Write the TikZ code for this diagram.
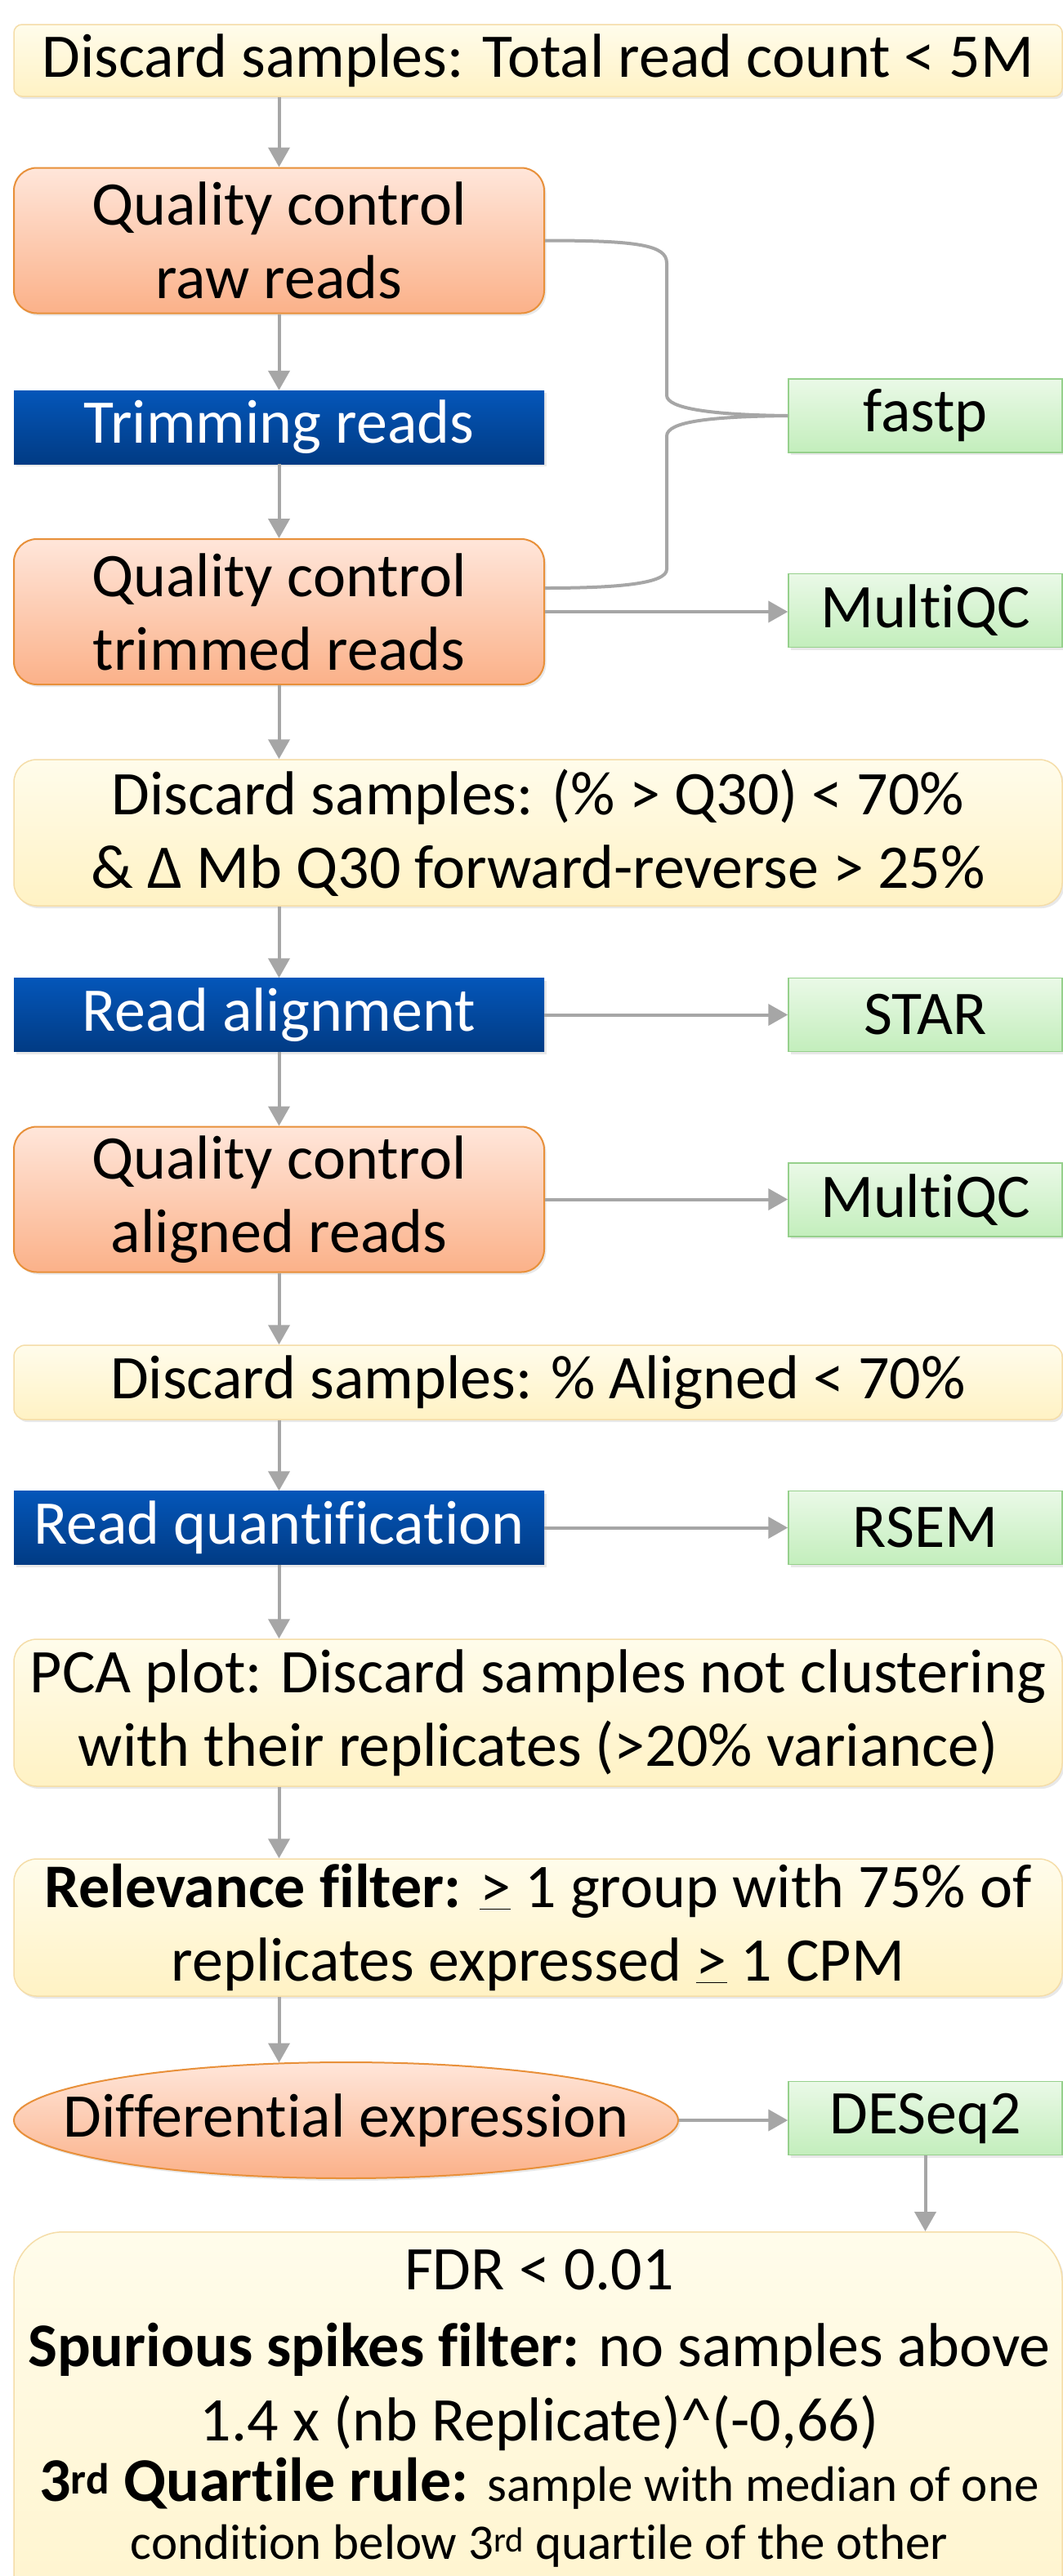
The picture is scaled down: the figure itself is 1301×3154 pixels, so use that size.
\documentclass[tikz,border=0pt]{standalone}
\usepackage{fontspec}
\setmainfont{Carlito}[Ligatures=NoCommon]
\usetikzlibrary{arrows.meta,shapes.geometric,shadows,calc}
\definecolor{arrowgray}{HTML}{A6A6A6}
\definecolor{yelTop}{HTML}{FFFCEB}
\definecolor{yelBot}{HTML}{FFF2C4}
\definecolor{yelLine}{HTML}{F5DDA8}
\definecolor{orTop}{HTML}{FFE6DA}
\definecolor{orBot}{HTML}{FBB189}
\definecolor{orLine}{HTML}{E8903A}
\definecolor{blTop}{HTML}{0456B9}
\definecolor{blBot}{HTML}{013B84}
\definecolor{grTop}{HTML}{EAF9E7}
\definecolor{grBot}{HTML}{C3EEBC}
\definecolor{grLine}{HTML}{96D08C}
\tikzset{
  basebox/.style={font=\fontsize{76}{90}\selectfont, align=center, inner sep=0pt,
    drop shadow={shadow xshift=2.5pt, shadow yshift=-3pt, opacity=0.18}},
  yelbox/.style={basebox, draw=yelLine, line width=1.5pt, top color=yelTop, bottom color=yelBot, minimum width=1283pt},
  orbox/.style={basebox, draw=orLine, line width=2pt, top color=orTop, bottom color=orBot, minimum width=649pt, minimum height=178pt, rounded corners=28pt},
  blbox/.style={basebox, top color=blTop, bottom color=blBot, text=white, minimum width=649pt, minimum height=90pt},
  grbox/.style={basebox, draw=grLine, line width=1.5pt, top color=grTop, bottom color=grBot, minimum width=335pt, minimum height=90pt},
  flow/.style={draw=arrowgray, line width=4pt, -{Triangle[length=24pt,width=26pt]}},
  bracepath/.style={draw=arrowgray, line width=4pt},
  linetext/.style={font=\fontsize{76}{90}\selectfont, anchor=base, inner sep=0pt},
}
\begin{document}
\begin{tikzpicture}[x=1pt,y=-1pt]
\fill[white] (0,0) rectangle (1301,3154);
\useasboundingbox (0,0) rectangle (1301,3154);

% left column
\node[yelbox, minimum height=88pt, rounded corners=10pt] (top) at (658.5,74) {Discard samples: Total read count < 5M};
\node[orbox] (qcraw) at (341.5,294.5) {Quality control\\raw reads};
\node[blbox] (trim) at (341.5,523) {Trimming reads};
\node[orbox] (qctrim) at (341.5,749) {Quality control\\trimmed reads};
\node[yelbox, minimum height=179pt, rounded corners=28pt] (disq) at (658.5,1019.5) {Discard samples: (\% > Q30) < 70\%\\\& Δ Mb Q30 forward-reverse > 25\%};
\node[blbox] (align) at (341.5,1242.5) {Read alignment};
\node[orbox] (qcal) at (341.5,1468.5) {Quality control\\aligned reads};
\node[yelbox, minimum height=91pt, rounded corners=14pt] (disal) at (658.5,1692.5) {Discard samples: \% Aligned < 70\%};
\node[blbox] (quant) at (341.5,1870.5) {Read quantification};
\node[yelbox, minimum height=180pt, rounded corners=28pt] (pca) at (658.5,2097) {PCA plot: Discard samples not clustering\\with their replicates (>20\% variance)};
\node[yelbox, minimum height=168pt, rounded corners=28pt] (rel) at (658.5,2360) {\textbf{Relevance filter:} \underline{>} 1 group with 75\% of\\replicates expressed \underline{>} 1 CPM};
\node[basebox, ellipse, draw=orLine, line width=2pt, top color=orTop, bottom color=orBot, minimum width=813pt, minimum height=142pt] (diff) at (423.5,2596) {};
\node[font=\fontsize{76}{90}\selectfont, inner sep=0pt] (difftext) at (diff.center) {Differential expression};

% right column
\node[grbox] (fastp) at (1132.5,509) {fastp};
\node[grbox] (mqca) at (1132.5,747.5) {MultiQC};
\node[grbox] (star) at (1132.5,1242.5) {STAR};
\node[grbox] (mqcb) at (1132.5,1469) {MultiQC};
\node[grbox] (rsem) at (1132.5,1870.5) {RSEM};
\node[grbox] (deseq) at (1132.5,2593.5) {DESeq2};

% final box
\node[yelbox, minimum height=620pt, rounded corners=60pt, anchor=north] (final) at (658.5,2732) {};
\node[linetext] (l1) at (660,2803) {FDR < 0.01};
\node[linetext] (l2) at (660,2897) {\textbf{Spurious spikes filter:} no samples above};
\node[linetext] (l3) at (660,2988) {1.4 x (nb Replicate)\^{}(-0,66)};
\node[linetext] (l4) at (660,3062) {\textbf{3\textsuperscript{rd} Quartile rule:} {\fontsize{61}{72}\selectfont sample with median of one}};
\node[linetext, font=\fontsize{61}{72}\selectfont] (l5) at (660,3133) {condition below 3\textsuperscript{rd} quartile of the other};

% vertical flow
\draw[flow] (top.south -| qcraw.north) -- (qcraw.north);
\draw[flow] (qcraw.south) -- (trim.north);
\draw[flow] (trim.south) -- (qctrim.north);
\draw[flow] (qctrim.south) -- (qctrim.south |- disq.north);
\draw[flow] (disq.south -| align.north) -- (align.north);
\draw[flow] (align.south) -- (qcal.north);
\draw[flow] (qcal.south) -- (qcal.south |- disal.north);
\draw[flow] (disal.south -| quant.north) -- (quant.north);
\draw[flow] (quant.south) -- (quant.south |- pca.north);
\draw[flow] (pca.south -| quant.south) -- (quant.south |- rel.north);
\draw[flow] (rel.south -| quant.south) -- ($(diff.north)+(-82,1.5)$);

% horizontal flow
\draw[flow] (qctrim.east) -- (qctrim.east -| mqca.west);
\draw[flow] (align.east) -- (align.east -| star.west);
\draw[flow] (qcal.east) -- (qcal.east -| mqcb.west);
\draw[flow] (quant.east) -- (quant.east -| rsem.west);
\draw[flow] (diff.east) -- (diff.east -| deseq.west);
\draw[flow] (deseq.south) -- (deseq.south |- final.north);

% brace to fastp
\draw[bracepath] (qcraw.east) .. controls (780,294.5) and (816,300) .. (816,322) -- (816,484) .. controls (816,500) and (870,508) .. (fastp.west);
\draw[bracepath] (fastp.west) .. controls (870,510) and (816,516) .. (816,534) -- (816,697) .. controls (816,714) and (760,720) .. ($(qctrim.east)+(0,-29)$);
\end{tikzpicture}
\end{document}
